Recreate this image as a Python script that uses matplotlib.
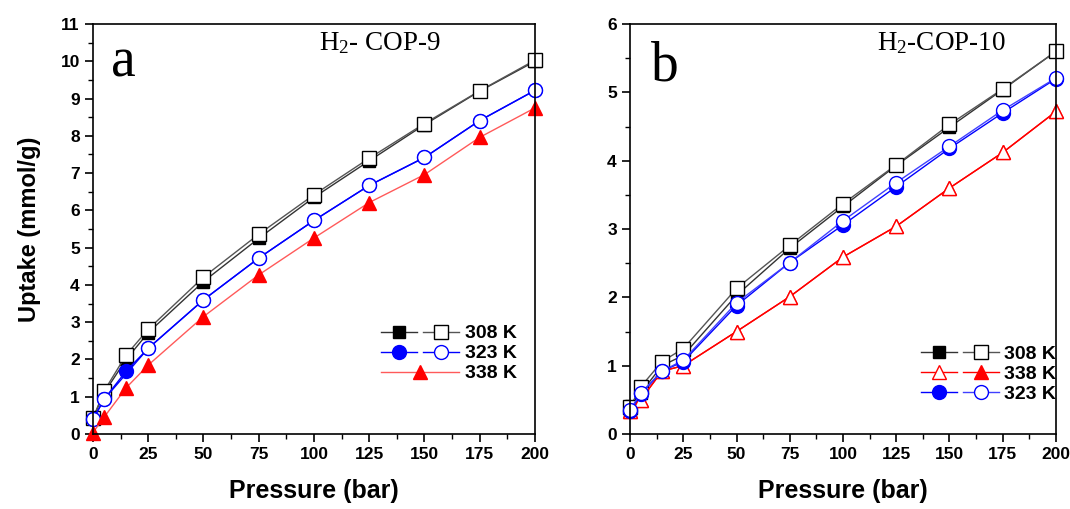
import numpy as np
from matplotlib import pyplot as plt
from matplotlib.legend_handler import HandlerTuple
import matplotlib.ticker as mticker

plt.rcParams['font.family'] = ['Liberation Sans', 'DejaVu Sans']
plt.rcParams['font.weight'] = 'bold'
plt.rcParams['mathtext.fontset'] = 'custom'
plt.rcParams['mathtext.rm'] = 'Liberation Serif:normal'
plt.rcParams['mathtext.it'] = 'Liberation Serif:italic:normal'
plt.rcParams['mathtext.default'] = 'rm'

# ---- panel a : H2 - COP-9 ----
p_a = [0, 5, 15, 25, 50, 75, 100, 125, 150, 175, 200]
a_308_fill = [0.42, 1.10, 2.00, 2.72, 4.09, 5.25, 6.35, 7.33, 8.30, 9.20, 10.00]
a_308_open = [0.42, 1.15, 2.12, 2.81, 4.21, 5.36, 6.42, 7.40, 8.33, 9.21, 10.03]
p_a_323_fill = [0, 5, 15, 25, 50, 75, 100, 125, 150, 175, 200]
a_323_fill = [0.39, 0.93, 1.69, 2.30, 3.60, 4.72, 5.73, 6.67, 7.42, 8.41, 9.22]
p_a_323_open = [0, 5, 25, 50, 75, 100, 125, 150, 175, 200]
a_323_open = [0.39, 0.93, 2.30, 3.60, 4.72, 5.73, 6.67, 7.42, 8.41, 9.22]
a_338 = [0.04, 0.45, 1.24, 1.85, 3.15, 4.27, 5.26, 6.21, 6.96, 7.96, 8.75]

# ---- panel b : H2 - COP-10 ----
p_b = [0, 5, 15, 25, 50, 75, 100, 125, 150, 175, 200]
b_308_fill = [0.35, 0.60, 1.00, 1.15, 2.03, 2.72, 3.33, 3.93, 4.49, 5.04, 5.60]
b_308_open = [0.39, 0.69, 1.06, 1.25, 2.13, 2.76, 3.37, 3.94, 4.53, 5.05, 5.60]
b_338_open = [0.33, 0.50, 0.92, 1.00, 1.50, 2.01, 2.59, 3.04, 3.60, 4.12, 4.72]
b_338_fill = [0.33, 0.50, 0.92, 1.00, 1.50, 2.01, 2.59, 3.04, 3.60, 4.12, 4.72]
b_323_fill = [0.33, 0.58, 0.92, 1.06, 1.88, 2.51, 3.06, 3.62, 4.18, 4.70, 5.20]
b_323_open = [0.35, 0.60, 0.92, 1.08, 1.92, 2.51, 3.12, 3.68, 4.21, 4.74, 5.21]

ms = 9.5
red_a = '#ff5a5a'

fig = plt.figure(figsize=(10.7, 5.09), dpi=100)
ax1 = fig.add_axes([0.0869, 0.1473, 0.4131, 0.8055])
ax2 = fig.add_axes([0.5888, 0.1473, 0.3981, 0.8055])

# panel a
h1, = ax1.plot(p_a, a_308_fill, color='#333333', lw=1, marker='s', ms=ms-1, mfc='black', mec='black', clip_on=False)
h2, = ax1.plot(p_a, a_308_open, color='#555555', lw=1, marker='s', ms=ms, mfc='white', mec='black', mew=1, clip_on=False)
h3, = ax1.plot(p_a_323_fill, a_323_fill, color='blue', lw=1, marker='o', ms=ms+0.5, mfc='blue', mec='blue', clip_on=False)
h4, = ax1.plot(p_a_323_open, a_323_open, color='blue', lw=1, marker='o', ms=ms+0.5, mfc='white', mec='blue', mew=1, clip_on=False)
h5, = ax1.plot(p_a, a_338, color=red_a, lw=1, marker='^', ms=ms+1, mfc='red', mec='red', clip_on=False)

# panel b
g1, = ax2.plot(p_b, b_308_fill, color='#333333', lw=1, marker='s', ms=ms-1, mfc='black', mec='black', clip_on=False)
g2, = ax2.plot(p_b, b_308_open, color='#555555', lw=1, marker='s', ms=ms, mfc='white', mec='black', mew=1, clip_on=False)
g4, = ax2.plot(p_b, b_338_fill, color='red', lw=1, marker='^', ms=ms, mfc='red', mec='red', clip_on=False)
g3, = ax2.plot(p_b, b_338_open, color='red', lw=1, marker='^', ms=ms+1, mfc='white', mec='red', mew=1, clip_on=False)
g5, = ax2.plot(p_b, b_323_fill, color='blue', lw=1, marker='o', ms=ms+0.5, mfc='blue', mec='blue', clip_on=False)
g6, = ax2.plot(p_b, b_323_open, color='#4040ff', lw=1, marker='o', ms=ms+0.5, mfc='white', mec='blue', mew=1, clip_on=False)

for ax, ymax in [(ax1, 11), (ax2, 6)]:
    ax.set_xlim(0, 200)
    ax.set_ylim(0, ymax)
    ax.xaxis.set_major_locator(mticker.MultipleLocator(25))
    ax.xaxis.set_minor_locator(mticker.MultipleLocator(12.5))
    ax.yaxis.set_major_locator(mticker.MultipleLocator(1))
    ax.yaxis.set_minor_locator(mticker.MultipleLocator(0.5))
    ax.tick_params(axis='both', which='major', direction='out', length=6, width=1.2, labelsize=12.5)
    ax.tick_params(axis='both', which='minor', direction='out', length=3.5, width=1.0)
    for s in ax.spines.values():
        s.set_linewidth(1.2)
    ax.set_xlabel('Pressure (bar)', fontsize=18, fontweight='bold', labelpad=12)

ax1.set_ylabel('Uptake (mmol/g)', fontsize=17, fontweight='bold', labelpad=14)

ax1.text(0.04, 0.97, 'a', transform=ax1.transAxes, fontsize=40, family='Liberation Serif',
         fontweight='normal', va='top')
ax2.text(0.05, 0.96, 'b', transform=ax2.transAxes, fontsize=40, family='Liberation Serif',
         fontweight='normal', va='top')
ax1.text(0.65, 0.985, 'H$_2$- COP-9', transform=ax1.transAxes, fontsize=19.5, family='Liberation Serif',
         fontweight='normal', ha='center', va='top')
ax2.text(0.73, 0.985, 'H$_2$-COP-10', transform=ax2.transAxes, fontsize=19.5, family='Liberation Serif',
         fontweight='normal', ha='center', va='top')

leg_kw = dict(handler_map={tuple: HandlerTuple(ndivide=None, pad=0.3)}, frameon=False,
              handlelength=4.0, handletextpad=0.3, labelspacing=0.12, borderpad=0,
              prop={'weight': 'bold', 'size': 14}, loc='upper left')
ax1.legend([(h1, h2), (h3, h4), (h5,)], ['308 K', '323 K', '338 K'],
           bbox_to_anchor=(0.63, 0.29), **leg_kw)
ax2.legend([(g1, g2), (g3, g4), (g5, g6)], ['308 K', '338 K', '323 K'],
           bbox_to_anchor=(0.66, 0.24), **leg_kw)

fig.savefig('out.png', dpi=100)
